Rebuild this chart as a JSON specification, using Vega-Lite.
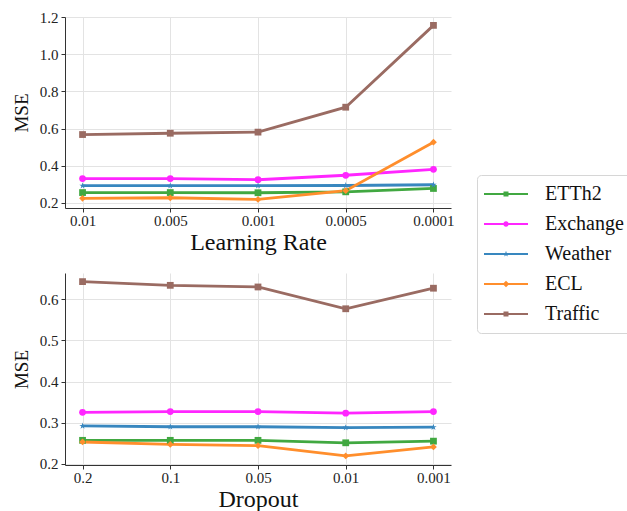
{
  "$schema": "https://vega.github.io/schema/vega-lite/v6.json",
  "background": "white",
  "padding": {"left": 12, "top": 10, "right": 0, "bottom": 0},
  "bounds": "flush",
  "spacing": 65,
  "config": {
    "font": "Liberation Serif",
    "view": {"stroke": null},
    "axis": {
      "labelFont": "Liberation Serif",
      "labelFontSize": 15,
      "labelColor": "#222222",
      "titleFont": "Liberation Serif",
      "titleFontWeight": "normal",
      "titleColor": "#111111",
      "domainColor": "#333333",
      "domainWidth": 1,
      "tickColor": "#333333",
      "tickSize": 4,
      "gridColor": "#e3e3e3",
      "gridWidth": 1
    },
    "axisX": {"labelAngle": 0, "labelPadding": 1, "titleFontSize": 24, "titlePadding": 2},
    "axisY": {"labelPadding": 3, "titleFontSize": 19, "titlePadding": 8}
  },
  "datasets": {
    "learning_rate": [
      {"lr": "0.01", "series": "ETTh2", "mse": 0.256},
      {"lr": "0.005", "series": "ETTh2", "mse": 0.256},
      {"lr": "0.001", "series": "ETTh2", "mse": 0.255},
      {"lr": "0.0005", "series": "ETTh2", "mse": 0.260},
      {"lr": "0.0001", "series": "ETTh2", "mse": 0.278},
      {"lr": "0.01", "series": "Exchange", "mse": 0.331},
      {"lr": "0.005", "series": "Exchange", "mse": 0.331},
      {"lr": "0.001", "series": "Exchange", "mse": 0.325},
      {"lr": "0.0005", "series": "Exchange", "mse": 0.349},
      {"lr": "0.0001", "series": "Exchange", "mse": 0.381},
      {"lr": "0.01", "series": "Weather", "mse": 0.293},
      {"lr": "0.005", "series": "Weather", "mse": 0.293},
      {"lr": "0.001", "series": "Weather", "mse": 0.293},
      {"lr": "0.0005", "series": "Weather", "mse": 0.294},
      {"lr": "0.0001", "series": "Weather", "mse": 0.298},
      {"lr": "0.01", "series": "ECL", "mse": 0.225},
      {"lr": "0.005", "series": "ECL", "mse": 0.228},
      {"lr": "0.001", "series": "ECL", "mse": 0.219},
      {"lr": "0.0005", "series": "ECL", "mse": 0.266},
      {"lr": "0.0001", "series": "ECL", "mse": 0.527},
      {"lr": "0.01", "series": "Traffic", "mse": 0.568},
      {"lr": "0.005", "series": "Traffic", "mse": 0.575},
      {"lr": "0.001", "series": "Traffic", "mse": 0.581},
      {"lr": "0.0005", "series": "Traffic", "mse": 0.715},
      {"lr": "0.0001", "series": "Traffic", "mse": 1.155}
    ],
    "dropout": [
      {"dropout": "0.2", "series": "ETTh2", "mse": 0.257},
      {"dropout": "0.1", "series": "ETTh2", "mse": 0.257},
      {"dropout": "0.05", "series": "ETTh2", "mse": 0.257},
      {"dropout": "0.01", "series": "ETTh2", "mse": 0.251},
      {"dropout": "0.001", "series": "ETTh2", "mse": 0.255},
      {"dropout": "0.2", "series": "Exchange", "mse": 0.325},
      {"dropout": "0.1", "series": "Exchange", "mse": 0.327},
      {"dropout": "0.05", "series": "Exchange", "mse": 0.327},
      {"dropout": "0.01", "series": "Exchange", "mse": 0.323},
      {"dropout": "0.001", "series": "Exchange", "mse": 0.327},
      {"dropout": "0.2", "series": "Weather", "mse": 0.292},
      {"dropout": "0.1", "series": "Weather", "mse": 0.290},
      {"dropout": "0.05", "series": "Weather", "mse": 0.290},
      {"dropout": "0.01", "series": "Weather", "mse": 0.288},
      {"dropout": "0.001", "series": "Weather", "mse": 0.289},
      {"dropout": "0.2", "series": "ECL", "mse": 0.253},
      {"dropout": "0.1", "series": "ECL", "mse": 0.247},
      {"dropout": "0.05", "series": "ECL", "mse": 0.244},
      {"dropout": "0.01", "series": "ECL", "mse": 0.219},
      {"dropout": "0.001", "series": "ECL", "mse": 0.241},
      {"dropout": "0.2", "series": "Traffic", "mse": 0.643},
      {"dropout": "0.1", "series": "Traffic", "mse": 0.634},
      {"dropout": "0.05", "series": "Traffic", "mse": 0.630},
      {"dropout": "0.01", "series": "Traffic", "mse": 0.577},
      {"dropout": "0.001", "series": "Traffic", "mse": 0.627}
    ]
  },
  "resolve": {"scale": {"color": "shared"}},
  "vconcat": [
    {
      "width": 386,
      "height": 191,
      "data": {"name": "learning_rate"},
      "encoding": {
        "x": {
          "field": "lr", "type": "ordinal",
          "sort": ["0.01", "0.005", "0.001", "0.0005", "0.0001"],
          "scale": {"type": "point", "padding": 0.2},
          "axis": {"title": "Learning Rate", "grid": true}
        },
        "y": {
          "field": "mse", "type": "quantitative",
          "scale": {"domain": [0.173, 1.2], "nice": false, "zero": false},
          "axis": {"title": "MSE", "values": [0.2, 0.4, 0.6, 0.8, 1.0, 1.2], "format": ".1f", "grid": true}
        }
      },
      "layer": [
        {
          "mark": {"type": "line", "strokeWidth": 2.8},
          "encoding": {
            "color": {
              "field": "series", "type": "nominal",
              "scale": {
                "domain": ["ETTh2", "Exchange", "Weather", "ECL", "Traffic"],
                "range": ["#41a841", "#ff26ff", "#3887bf", "#ff8e2c", "#9a6b62"]
              },
              "legend": {
                "title": null,
                "orient": "none",
                "legendX": 412,
                "legendY": 158,
                "labelFont": "Liberation Serif",
                "labelFontSize": 20,
                "labelColor": "#111111",
                "labelOffset": 29,
                "rowPadding": 10,
                "padding": 9,
                "fillColor": "white",
                "strokeColor": "#d6d6d6",
                "cornerRadius": 4,
                "symbolSize": 400,
                "symbolOffset": 10,
                "symbolStrokeWidth": 0,
                "symbolType": "M-2.2,-0.1H2.2V0.1H-2.2Z",
                "encode": {
                  "symbols": {
                    "update": {
                      "fill": {"scale": "color", "field": "value"},
                      "strokeWidth": {"value": 0},
                      "shape": {"signal": "datum.value === 'Exchange' ? 'M-2.2,-0.1H2.2V0.1H-2.2Z M0.27,0A0.27,0.27 0 1 1 -0.27,0A0.27,0.27 0 1 1 0.27,0Z' : datum.value === 'Weather' ? 'M-2.2,-0.1H2.2V0.1H-2.2Z M0,-0.32L0.072,-0.099L0.304,-0.099L0.116,0.038L0.188,0.259L0,0.122L-0.188,0.259L-0.116,0.038L-0.304,-0.099L-0.072,-0.099Z' : datum.value === 'ECL' ? 'M-2.2,-0.1H2.2V0.1H-2.2Z M0,-0.33L0.33,0L0,0.33L-0.33,0Z' : 'M-2.2,-0.1H2.2V0.1H-2.2Z M-0.25,-0.25H0.25V0.25H-0.25Z'"}
                    }
                  }
                }
              }
            }
          }
        },
        {
          "mark": {"type": "point", "filled": true, "opacity": 1, "size": 46},
          "encoding": {
            "color": {"field": "series", "type": "nominal", "legend": null},
            "shape": {
              "condition": [
                {"test": "datum.series === 'Exchange'", "value": "circle"},
                {"test": "datum.series === 'Weather'", "value": "M0,-1L0.223,-0.307L0.951,-0.309L0.361,0.117L0.588,0.809L0,0.38L-0.588,0.809L-0.361,0.117L-0.951,-0.309L-0.223,-0.307Z"},
                {"test": "datum.series === 'ECL'", "value": "diamond"}
              ],
              "value": "square"
            }
          }
        }
      ]
    },
    {
      "width": 386,
      "height": 192,
      "data": {"name": "dropout"},
      "encoding": {
        "x": {
          "field": "dropout", "type": "ordinal",
          "sort": ["0.2", "0.1", "0.05", "0.01", "0.001"],
          "scale": {"type": "point", "padding": 0.2},
          "axis": {"title": "Dropout", "grid": true}
        },
        "y": {
          "field": "mse", "type": "quantitative",
          "scale": {"domain": [0.197, 0.664], "nice": false, "zero": false},
          "axis": {"title": "MSE", "values": [0.2, 0.3, 0.4, 0.5, 0.6], "format": ".1f", "grid": true}
        }
      },
      "layer": [
        {
          "mark": {"type": "line", "strokeWidth": 2.8},
          "encoding": {"color": {"field": "series", "type": "nominal", "legend": null}}
        },
        {
          "mark": {"type": "point", "filled": true, "opacity": 1, "size": 46},
          "encoding": {
            "color": {"field": "series", "type": "nominal", "legend": null},
            "shape": {
              "condition": [
                {"test": "datum.series === 'Exchange'", "value": "circle"},
                {"test": "datum.series === 'Weather'", "value": "M0,-1L0.223,-0.307L0.951,-0.309L0.361,0.117L0.588,0.809L0,0.38L-0.588,0.809L-0.361,0.117L-0.951,-0.309L-0.223,-0.307Z"},
                {"test": "datum.series === 'ECL'", "value": "diamond"}
              ],
              "value": "square"
            }
          }
        }
      ]
    }
  ]
}
